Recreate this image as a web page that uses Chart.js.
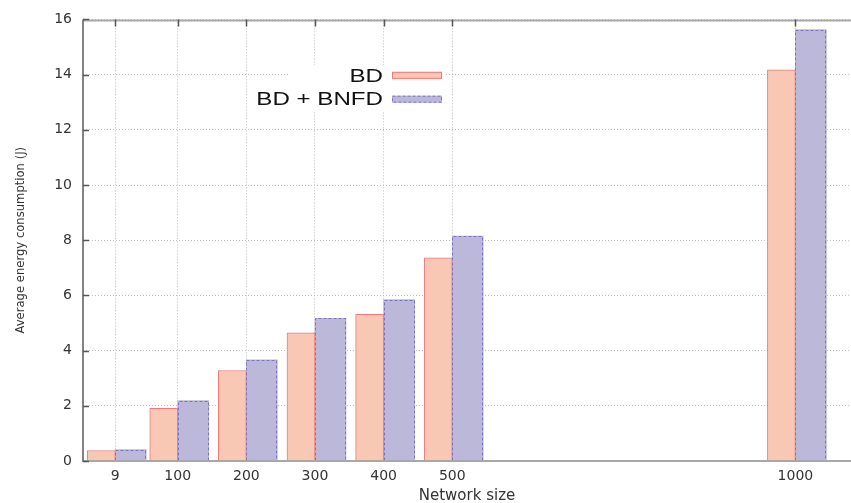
<!DOCTYPE html>
<html>
<head>
<meta charset="utf-8">
<script src="https://cdn.jsdelivr.net/npm/chart.js@4/dist/chart.umd.min.js"></script>
<style>
  html, body { margin: 0; padding: 0; background: #fff; }
  #wrap { width: 851px; height: 503px; position: relative; }
</style>
</head>
<body>
<div id="wrap"><canvas id="chart"></canvas></div>
<script>
// Network sizes (x positions on a linear axis) and measured energy per run
const networkSizes = [9, 100, 200, 300, 400, 500, 1000];
const bdEnergy = [0.38, 1.91, 3.28, 4.64, 5.31, 7.36, 14.17];
const bdBnfdEnergy = [0.41, 2.19, 3.67, 5.17, 5.85, 8.15, 15.63];
const seriesNames = ['BD', 'BD + BNFD'];
const yTickStep = 2;

const TICK_FONT = "'DejaVu Sans', sans-serif";

// Dashed outline for bars whose dataset asks for one, then the frame and the key
const framePlugin = {
  id: 'frameAndKey',
  afterDatasetsDraw(chart) {
    const ctx = chart.ctx;
    const area = chart.chartArea;
    const xs = chart.scales.x, ys = chart.scales.y;

    chart.data.datasets.forEach((ds, di) => {
      if (!ds.outlineDash) return;
      const meta = chart.getDatasetMeta(di);
      ctx.save();
      ctx.strokeStyle = ds.outlineColor;
      ctx.lineWidth = 1;
      ctx.setLineDash(ds.outlineDash);
      meta.data.forEach(el => {
        const p = el.getProps(['x', 'y', 'base', 'width'], true);
        const l = Math.round(p.x - p.width / 2) + 0.5;
        const r = Math.round(p.x + p.width / 2) - 0.5;
        const t = Math.round(p.y) + 0.5;
        ctx.beginPath();
        ctx.moveTo(l, p.base);
        ctx.lineTo(l, t);
        ctx.lineTo(r, t);
        ctx.lineTo(r, p.base);
        ctx.stroke();
      });
      ctx.restore();
    });

    // frame: top and bottom in light grey, left in darker grey
    ctx.save();
    ctx.setLineDash([]);
    ctx.strokeStyle = '#a8a8a8';
    ctx.lineWidth = 2;
    ctx.beginPath();
    ctx.moveTo(area.left, area.top + 1); ctx.lineTo(area.right, area.top + 1);
    ctx.moveTo(area.left, area.bottom); ctx.lineTo(area.right, area.bottom);
    ctx.stroke();
    ctx.strokeStyle = '#5a5a5a';
    ctx.lineWidth = 1.5;
    ctx.beginPath();
    ctx.moveTo(area.left, area.top); ctx.lineTo(area.left, area.bottom + 1);
    ctx.stroke();

    // inward tick marks on the top and left edges
    ctx.strokeStyle = '#555';
    ctx.lineWidth = 1.5;
    ctx.beginPath();
    xs.ticks.forEach(t => {
      const px = Math.round(xs.getPixelForValue(t.value)) + 0.5;
      ctx.moveTo(px, area.top); ctx.lineTo(px, area.top + 7);
    });
    ys.ticks.forEach(t => {
      const py = Math.round(ys.getPixelForValue(t.value)) + 0.5;
      ctx.moveTo(area.left, py); ctx.lineTo(area.left + 6, py);
    });
    ctx.stroke();
    ctx.restore();

    // key with white backing, text right-aligned next to its swatch
    ctx.save();
    ctx.fillStyle = '#ffffff';
    ctx.fillRect(290, 65, 155, 47);
    const rows = [75.3, 99.2];
    chart.data.datasets.forEach((ds, i) => {
      const cy = rows[i];
      const sx = 392, sw = 50, sh = 7;
      ctx.fillStyle = ds.backgroundColor;
      ctx.fillRect(sx, cy - sh / 2, sw, sh);
      ctx.lineWidth = 1;
      if (ds.outlineDash) {
        ctx.strokeStyle = ds.outlineColor;
        ctx.setLineDash(ds.outlineDash);
      } else {
        ctx.strokeStyle = ds.borderColor;
        ctx.setLineDash([]);
      }
      ctx.strokeRect(sx + 0.5, cy - sh / 2 + 0.5, sw - 1, sh - 1);
      ctx.setLineDash([]);

      ctx.save();
      ctx.translate(383, cy);
      ctx.scale(1.27, 1);
      ctx.font = "19px 'Liberation Sans', Arial, sans-serif";
      ctx.fillStyle = '#111';
      ctx.textAlign = 'right';
      ctx.textBaseline = 'middle';
      ctx.fillText(ds.label, 0, 1);
      ctx.restore();
    });
    ctx.restore();
  }
};

new Chart(document.getElementById('chart'), {
  type: 'bar',
  data: {
    datasets: [
      {
        label: seriesNames[0],
        data: networkSizes.map((n, i) => ({ x: n, y: bdEnergy[i] })),
        backgroundColor: '#f8c8b4',
        borderColor: '#f07a78',
        borderWidth: { left: 1, right: 1, top: 1, bottom: 0 },
        barThickness: 28
      },
      {
        label: seriesNames[1],
        data: networkSizes.map((n, i) => ({ x: n, y: bdBnfdEnergy[i] })),
        backgroundColor: '#bcb8da',
        borderWidth: 0,
        barThickness: 31,
        outlineDash: [3, 2],
        outlineColor: '#7b72c4'
      }
    ]
  },
  options: {
    responsive: true,
    maintainAspectRatio: false,
    animation: false,
    layout: { padding: { top: 12, left: 0, right: 0, bottom: 0 } },
    plugins: {
      legend: { display: false },
      tooltip: { enabled: false }
    },
    scales: {
      x: {
        type: 'linear',
        min: -38,
        max: 1081,
        offset: false,
        afterBuildTicks(scale) {
          scale.ticks = networkSizes.map(v => ({ value: v }));
        },
        afterFit(scale) { scale.height = 42; },
        grid: { offset: false, color: '#bdbdbd', lineWidth: 1, drawTicks: false },
        border: { display: false, dash: [1, 2] },
        ticks: {
          callback: v => String(v),
          padding: 7,
          color: '#333',
          font: { family: TICK_FONT, size: 14 },
          maxRotation: 0,
          autoSkip: false
        },
        title: {
          display: true,
          text: 'Network size',
          color: '#333',
          font: { family: TICK_FONT, size: 15 },
          padding: { top: 0, bottom: -2 }
        }
      },
      y: {
        min: 0,
        max: 16,
        afterFit(scale) { scale.width = 83; },
        grid: { color: '#bdbdbd', lineWidth: 1, drawTicks: false },
        border: { display: false, dash: [1, 2] },
        ticks: {
          stepSize: yTickStep,
          padding: 11,
          color: '#333',
          font: { family: TICK_FONT, size: 14 }
        },
        title: {
          display: true,
          text: 'Average energy consumption (J)',
          color: '#333',
          font: { family: TICK_FONT, size: 11.6 },
          padding: { top: 14, bottom: 0 }
        }
      }
    }
  },
  plugins: [framePlugin]
});
</script>
</body>
</html>
